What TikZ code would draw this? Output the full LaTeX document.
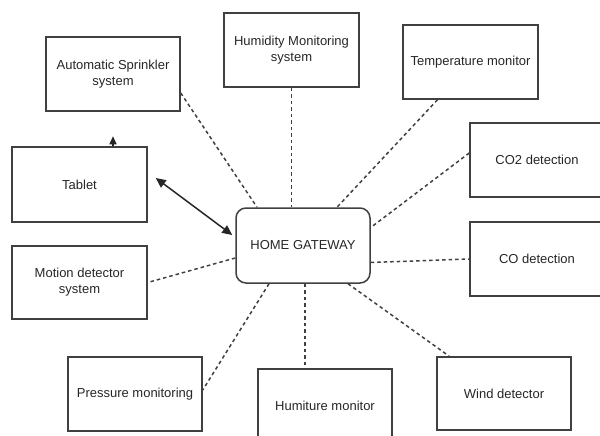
\documentclass[tikz,border=0pt]{standalone}
\usepackage{fontspec}
\setmainfont{Liberation Sans}
\usetikzlibrary{arrows.meta}
\definecolor{edge}{HTML}{404040}
\definecolor{txt}{HTML}{262626}
\begin{document}
\begin{tikzpicture}[x=1pt,y=-1pt,
  box/.style={draw=edge,line width=1.5pt,rectangle,minimum width=134pt,minimum height=74pt,
    inner sep=2pt,align=center,text=txt,font=\fontsize{13}{16}\selectfont},
  gwbox/.style={box,rounded corners=10pt},
  link/.style={draw=edge,line width=1.5pt,dash pattern=on 3.5pt off 3pt},
  biarrow/.style={draw=black!85,line width=1.5pt,{Triangle[length=10pt,width=9pt]}-{Triangle[length=10pt,width=9pt]}},
  uparrow/.style={draw=black!85,line width=1.5pt,-{Triangle[length=8pt,width=7pt]}}]
\useasboundingbox (0,0) rectangle (600,436);
\clip (0,0) rectangle (600,436);
\node[box] (spr) at (113,74) {Automatic Sprinkler\\system};
\node[box,minimum width=135pt] (hum) at (291.5,50) {Humidity Monitoring\\system};
\node[box,minimum width=135pt] (tmp) at (470.5,62) {Temperature monitor};
\node[box] (co2) at (537,160) {CO2 detection};
\node[box,minimum width=135pt,minimum height=75pt] (tab) at (79.5,184.5) {Tablet};
\node[gwbox,minimum height=75pt] (gw) at (303,245.5) {HOME GATEWAY};
\node[box,minimum width=135pt,minimum height=73pt] (mot) at (79.5,282.5) {Motion detector\\system};
\node[box] (prs) at (135,394) {Pressure monitoring};
\node[box] (hmt) at (325,406) {Humiture monitor};
\node[box] (co) at (537,259) {CO detection};
\node[box,minimum height=73pt] (wnd) at (504,393.5) {Wind detector};
\coordinate (tabbase) at ([xshift=33.5pt]tab.north);
\coordinate (tabtip) at ([xshift=33.5pt,yshift=10pt]tab.north);
% dashed links
\draw[link] ([yshift=-19pt]spr.east) -- ([xshift=-46pt]gw.north);
\draw[link] (hum.south) -- (hum.south |- gw.north);
\draw[link] ([xshift=-33pt]tmp.south) -- ([xshift=34pt]gw.north);
\draw[link] ([yshift=7pt]co2.west) -- ([yshift=18pt]gw.east);
\draw[link] ([yshift=-17pt]gw.east) -- (co.west);
\draw[link] ([xshift=45pt]gw.south) -- ([xshift=13pt]wnd.north west);
\draw[link] ([xshift=2pt]gw.south) -- ([xshift=2pt]gw.south |- hmt.north);
\draw[link] ([xshift=-34pt]gw.south) -- ([yshift=4pt]prs.east);
\draw[link] ([yshift=-12.5pt]gw.west) -- (mot.east);
% solid arrows
\draw[biarrow] ([xshift=8pt,yshift=6.5pt]tab.east) -- ([xshift=-3pt,yshift=10.5pt]gw.west);
\draw[uparrow] (tabbase) -- (tabtip);
\end{tikzpicture}
\end{document}
